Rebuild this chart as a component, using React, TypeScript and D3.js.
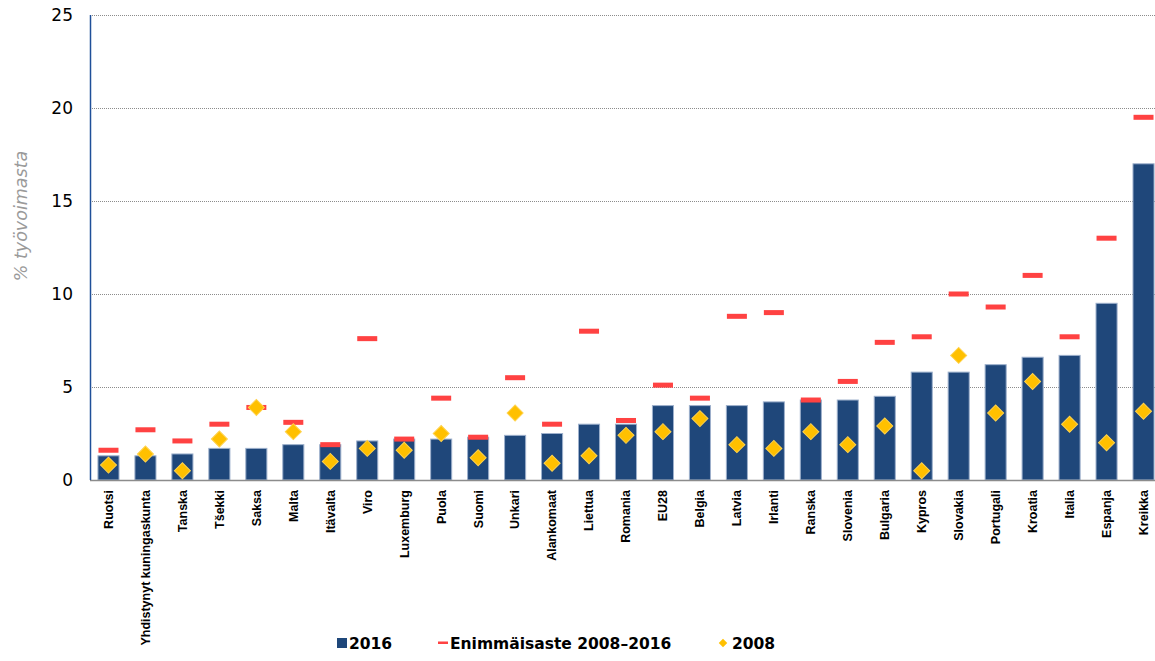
import { useRef, useEffect } from 'react';
import * as d3 from 'd3';

const countries = [
    'Ruotsi', 'Yhdistynyt kuningaskunta', 'Tanska', 'Tšekki', 'Saksa', 'Malta', 'Itävalta', 'Viro',
    'Luxemburg', 'Puola', 'Suomi', 'Unkari', 'Alankomaat', 'Liettua', 'Romania', 'EU28', 'Belgia',
    'Latvia', 'Irlanti', 'Ranska', 'Slovenia', 'Bulgaria', 'Kypros', 'Slovakia', 'Portugali',
    'Kroatia', 'Italia', 'Espanja', 'Kreikka'
];
const values2016 = [1.3, 1.3, 1.4, 1.7, 1.7, 1.9, 1.9, 2.1, 2.2, 2.2, 2.3, 2.4, 2.5, 3.0, 3.0, 4.0, 4.0,
    4.0, 4.2, 4.3, 4.3, 4.5, 5.8, 5.8, 6.2, 6.6, 6.7, 9.5, 17.0];
const maxRate = [1.6, 2.7, 2.1, 3.0, 3.9, 3.1, 1.9, 7.6, 2.2, 4.4, 2.3, 5.5, 3.0, 8.0, 3.2, 5.1, 4.4,
    8.8, 9.0, 4.3, 5.3, 7.4, 7.7, 10.0, 9.3, 11.0, 7.7, 13.0, 19.5];
const values2008 = [0.8, 1.4, 0.5, 2.2, 3.9, 2.6, 1.0, 1.7, 1.6, 2.5, 1.2, 3.6, 0.9, 1.3, 2.4, 2.6, 3.3,
    1.9, 1.7, 2.6, 1.9, 2.9, 0.5, 6.7, 3.6, 5.3, 3.0, 2.0, 3.7];
const yTicks = [0, 5, 10, 15, 20, 25];

const App = () => {
    const ref = useRef<SVGSVGElement>(null);

    useEffect(() => {
        const svg = d3.select(ref.current);
        svg.selectAll('*').remove();

        const left = 90, top = 15, bottom = 480, right = 1162;

        const x = d3.scaleBand()
            .domain(countries)
            .range([left, right])
            .paddingInner(0.43)
            .paddingOuter(0.215);

        const y = d3.scaleLinear()
            .domain([0, 25])
            .range([bottom, top]);

        // gridlines
        svg.append('g')
            .selectAll('line')
            .data(yTicks.filter(d => d > 0))
            .enter().append('line')
            .attr('x1', left)
            .attr('x2', 1155)
            .attr('y1', d => y(d) + 0.5)
            .attr('y2', d => y(d) + 0.5)
            .attr('stroke', '#8c8c8c')
            .attr('stroke-width', 1)
            .attr('stroke-dasharray', '1,1');

        // y tick labels
        svg.append('g')
            .selectAll('text')
            .data(yTicks)
            .enter().append('text')
            .attr('x', 73)
            .attr('y', d => y(d))
            .attr('dy', '0.36em')
            .attr('text-anchor', 'end')
            .style('font-family', '"DejaVu Sans", Verdana, sans-serif')
            .style('font-size', '17px')
            .attr('fill', '#000')
            .text(d => d);

        // y title
        svg.append('text')
            .attr('transform', 'translate(27, 216) rotate(-90)')
            .attr('text-anchor', 'middle')
            .style('font-family', '"DejaVu Sans", Verdana, sans-serif')
            .style('font-size', '17.5px')
            .style('font-style', 'italic')
            .attr('fill', '#9a9a9a')
            .text('% työvoimasta');

        // bars
        svg.append('g')
            .selectAll('rect')
            .data(countries)
            .enter().append('rect')
            .attr('x', d => x(d))
            .attr('y', (_, i) => y(values2016[i]))
            .attr('width', x.bandwidth())
            .attr('height', (_, i) => bottom - y(values2016[i]))
            .attr('fill', '#1f477a')
            .attr('stroke', '#9db0cc')
            .attr('stroke-width', 1);

        // axes lines
        svg.append('line')
            .attr('x1', left).attr('x2', 1155)
            .attr('y1', bottom + 0.5).attr('y2', bottom + 0.5)
            .attr('stroke', '#8c8c8c')
            .attr('stroke-width', 1.5);
        svg.append('line')
            .attr('x1', left + 0.5).attr('x2', left + 0.5)
            .attr('y1', top).attr('y2', bottom)
            .attr('stroke', '#1f4f99')
            .attr('stroke-width', 1.5);

        // max rate markers
        svg.append('g')
            .selectAll('rect')
            .data(countries)
            .enter().append('rect')
            .attr('x', d => x(d) + x.bandwidth() / 2 - 10)
            .attr('y', (_, i) => y(maxRate[i]) - 2.5)
            .attr('width', 20)
            .attr('height', 5)
            .attr('fill', '#ff4242');

        // 2008 diamonds
        const diamond = d3.symbol().type(d3.symbolSquare).size(128);
        svg.append('g')
            .selectAll('path')
            .data(countries)
            .enter().append('path')
            .attr('d', diamond)
            .attr('transform', (d, i) => `translate(${x(d) + x.bandwidth() / 2}, ${y(values2008[i])}) rotate(45)`)
            .attr('fill', '#ffc000')
            .attr('stroke', '#ffd24d')
            .attr('stroke-width', 1);

        // x labels
        svg.append('g')
            .selectAll('text')
            .data(countries)
            .enter().append('text')
            .attr('transform', d => `translate(${x(d) + x.bandwidth() / 2}, 490) rotate(-90)`)
            .attr('dy', '0.35em')
            .attr('text-anchor', 'end')
            .style('font-family', '"Liberation Sans", Arial, sans-serif')
            .style('font-size', '12.5px')
            .style('font-weight', 'bold')
            .attr('fill', '#000')
            .text(d => d);

        // legend
        const legend = svg.append('g')
            .style('font-family', '"DejaVu Sans", Verdana, sans-serif')
            .style('font-size', '15.5px')
            .style('font-weight', 'bold');

        legend.append('rect')
            .attr('x', 337).attr('y', 638)
            .attr('width', 10).attr('height', 10)
            .attr('fill', '#1f477a');
        legend.append('text')
            .attr('x', 349).attr('y', 648.5)
            .text('2016');

        legend.append('rect')
            .attr('x', 438).attr('y', 641.5)
            .attr('width', 10).attr('height', 2.5)
            .attr('fill', '#ff4242');
        legend.append('text')
            .attr('x', 450).attr('y', 648.5)
            .text('Enimmäisaste 2008–2016');

        legend.append('path')
            .attr('d', d3.symbol().type(d3.symbolSquare).size(36))
            .attr('transform', 'translate(723, 643) rotate(45)')
            .attr('fill', '#ffc000');
        legend.append('text')
            .attr('x', 732).attr('y', 648.5)
            .text('2008');
    }, []);

    return (
        <svg
            ref={ref}
            width={1155}
            height={661}
            style={{ position: 'absolute', left: 0, top: 0, background: '#fff' }}
        />
    );
};

export default App;
